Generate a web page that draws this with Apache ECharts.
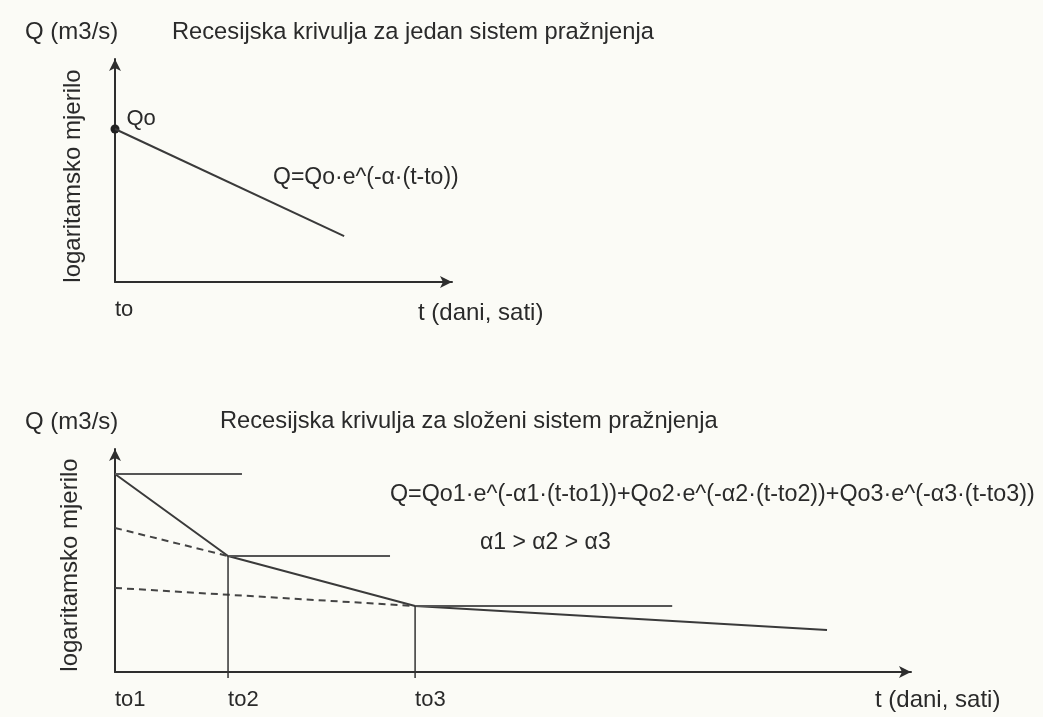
<!DOCTYPE html>
<html>
<head>
<meta charset="utf-8">
<script src="https://cdn.jsdelivr.net/npm/echarts@6/dist/echarts.min.js"></script>
<style>
  html, body { margin: 0; padding: 0; background: #fbfbf6; }
  #chart { width: 1043px; height: 717px; }
</style>
</head>
<body>
<div id="chart"></div>
<script>
// ---------- Data (abstract units) ----------
// Top chart: single recession system
const topTickT = [0];
const topTickLabels = ['to'];
const topLineT = [0, 6.8];
const topLineQ = [6.86, 2.06];
const topPointLabels = ['Qo'];

// Bottom chart: compound recession system
const bottomTickT = [0, 2.84, 7.54];
const bottomTickLabels = ['to1', 'to2', 'to3'];
const mainT = [0, 2.84, 7.54, 17.89];
const mainQ = [8.88, 5.20, 2.96, 1.88];
const dash1T = [0, 2.84];
const dash1Q = [6.46, 5.20];
const dash2T = [0, 7.54];
const dash2Q = [3.77, 2.96];
const horizStartT = [0, 2.84, 7.54];
const horizEndT = [3.19, 6.91, 14.0];
const horizQ = [8.88, 5.20, 2.96];
const vertT = [2.84, 7.54];
const vertTopQ = [5.20, 2.96];
const vertBottomQ = [-0.27, -0.27];

// ---------- Texts ----------
const yUnit = 'Q (m3/s)';
const yScaleName = 'logaritamsko mjerilo';
const xName = 't (dani, sati)';
const title1 = 'Recesijska krivulja za jedan sistem pražnjenja';
const title2 = 'Recesijska krivulja za složeni sistem pražnjenja';
const formula1 = 'Q=Qo·e^(-α·(t-to))';
const formula2 = 'Q=Qo1·e^(-α1·(t-to1))+Qo2·e^(-α2·(t-to2))+Qo3·e^(-α3·(t-to3))';
const alphaOrder = 'α1 > α2 > α3';

// ---------- Styling ----------
const FONT = 'Liberation Sans';
const TXT = '#2a2a2a';
const LINE = '#3a3a3a';

const zip = (a, b) => a.map((v, i) => [v, b[i]]);

function axisLineStyle() {
  return {
    show: true,
    onZero: false,
    lineStyle: { color: '#2e2e2e', width: 2 },
    symbol: ['none', 'arrow'],
    symbolSize: [9, 12]
  };
}

function xAxisCfg(gridIndex, max, ticks, labels) {
  return {
    gridIndex, type: 'value', min: 0, max,
    axisLine: axisLineStyle(),
    axisTick: { show: false },
    splitLine: { show: false },
    axisLabel: {
      show: true,
      customValues: ticks,
      formatter: v => { const i = ticks.indexOf(v); return i >= 0 ? labels[i] : ''; },
      align: 'left',
      margin: 17,
      color: TXT, fontSize: 22, fontFamily: FONT
    }
  };
}
function yAxisCfg(gridIndex) {
  return {
    gridIndex, type: 'value', min: 0, max: 10,
    axisLine: axisLineStyle(),
    axisTick: { show: false },
    splitLine: { show: false },
    axisLabel: { show: false }
  };
}

function lineSeries(idx, data, opts = {}) {
  return Object.assign({
    type: 'line', xAxisIndex: idx, yAxisIndex: idx,
    data, symbol: 'none', silent: true, clip: false,
    lineStyle: { color: LINE, width: 2, type: 'solid' },
    animation: false
  }, opts);
}

const series = [];
// top
series.push(lineSeries(0, zip(topLineT, topLineQ)));
series.push({
  type: 'scatter', xAxisIndex: 0, yAxisIndex: 0,
  data: [{ value: [topLineT[0], topLineQ[0]], name: topPointLabels[0] }],
  symbolSize: 9, itemStyle: { color: '#222', opacity: 1 }, silent: true, animation: false,
  label: { show: true, formatter: p => p.name, position: 'right', offset: [2, -10],
           color: TXT, fontSize: 22, fontFamily: FONT }
});
// bottom
series.push(lineSeries(1, zip(mainT, mainQ)));
series.push(lineSeries(1, zip(dash1T, dash1Q), { lineStyle: { color: '#444', width: 2, type: [7, 5] } }));
series.push(lineSeries(1, zip(dash2T, dash2Q), { lineStyle: { color: '#444', width: 2, type: [7, 5] } }));
horizQ.forEach((q, i) => {
  series.push(lineSeries(1, [[horizStartT[i], q], [horizEndT[i], q]], { lineStyle: { color: '#555', width: 2 } }));
});
vertT.forEach((t, i) => {
  series.push(lineSeries(1, [[t, vertTopQ[i]], [t, vertBottomQ[i]]], { lineStyle: { color: '#333', width: 1.5 } }));
});

function txt(x, y, text, size, extra = {}) {
  return Object.assign({
    type: 'text', x, y, silent: true,
    style: { text, fill: TXT, font: size + 'px "' + FONT + '"', align: 'left', verticalAlign: 'middle' }
  }, extra);
}
function rotTxt(x, y, text, size) {
  return { type: 'text', x, y, rotation: Math.PI / 2, silent: true,
    style: { text, fill: TXT, font: size + 'px "' + FONT + '"', align: 'center', verticalAlign: 'middle' } };
}

const graphics = [
  txt(25, 32, yUnit, 24),
  txt(172, 32, title1, 23.7),
  txt(273, 178, formula1, 23),
  rotTxt(73, 176, yScaleName, 24),
  txt(418, 313, xName, 24),

  txt(25, 422, yUnit, 24),
  txt(220, 421, title2, 23.7),
  txt(390, 495, formula2, 23.3),
  txt(480, 543, alphaOrder, 23),
  rotTxt(70, 565, yScaleName, 24),
  txt(875, 700, xName, 24)
];

const chart = echarts.init(document.getElementById('chart'), null, { renderer: 'canvas' });
chart.setOption({
  backgroundColor: '#fbfbf6',
  animation: false,
  grid: [
    { left: 115, top: 59, width: 337, height: 223 },
    { left: 115, top: 449, width: 796, height: 223 }
  ],
  xAxis: [
    xAxisCfg(0, 10, topTickT, topTickLabels),
    xAxisCfg(1, 20, bottomTickT, bottomTickLabels)
  ],
  yAxis: [yAxisCfg(0), yAxisCfg(1)],
  series,
  graphic: graphics
});
</script>
</body>
</html>
